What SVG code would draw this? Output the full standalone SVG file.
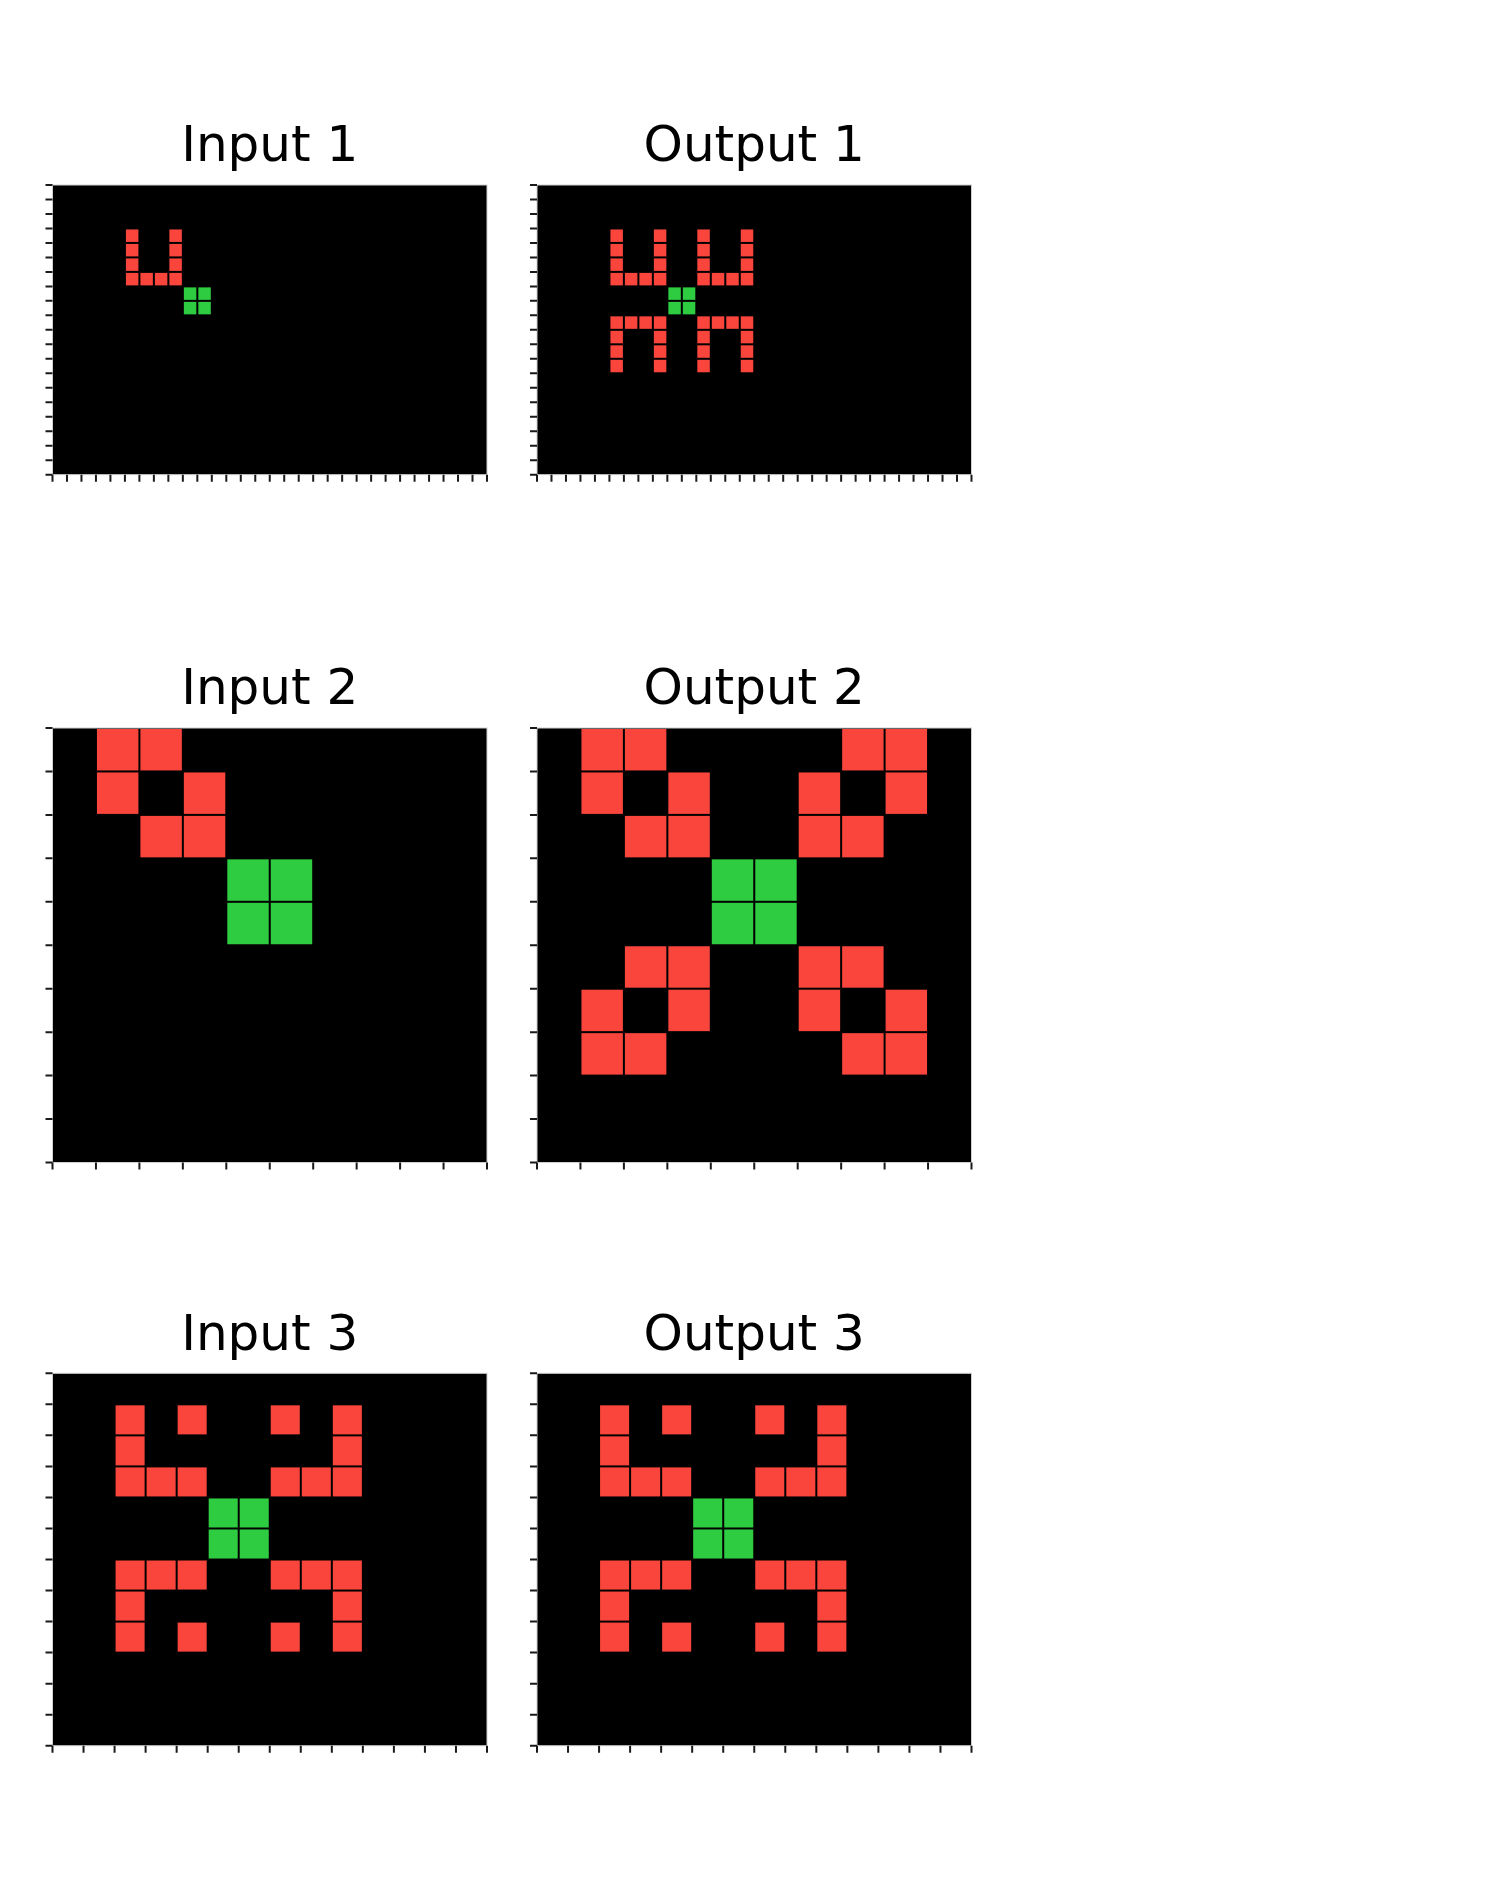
<svg xmlns="http://www.w3.org/2000/svg" width="1500" height="1890" viewBox="0 0 1500 1890">
<style>
.title{font-family:"DejaVu Sans","Liberation Sans",sans-serif;font-size:50px;fill:#000;text-anchor:middle}
.ax{fill:#000;stroke:#cfcfcf;stroke-width:1}
.r{fill:#F9453C}
.g{fill:#2ECC40}
.tk{fill:none;stroke:#1a1a1a;stroke-width:7;stroke-linecap:butt}
</style>
<defs>
<rect id="u1" x="0.069" y="0.069" width="0.862" height="0.862"/>
<rect id="u2" x="0.023" y="0.023" width="0.954" height="0.954"/>
<rect id="u3" x="0.032" y="0.032" width="0.936" height="0.936"/>
</defs>
<rect x="0" y="0" width="1500" height="1890" fill="#fff"/>

<g id="input1">
<text class="title" x="269.75" y="161">Input 1</text>
<rect class="ax" x="52.5" y="185" width="434.5" height="289.67"/>
<g transform="translate(52.5 185) scale(14.483)">
<g class="r">
<use href="#u1" x="5" y="3"/><use href="#u1" x="5" y="4"/><use href="#u1" x="5" y="5"/><use href="#u1" x="5" y="6"/>
<use href="#u1" x="8" y="3"/><use href="#u1" x="8" y="4"/><use href="#u1" x="8" y="5"/><use href="#u1" x="8" y="6"/>
<use href="#u1" x="6" y="6"/><use href="#u1" x="7" y="6"/>
</g>
<g class="g">
<use href="#u1" x="9" y="7"/><use href="#u1" x="10" y="7"/><use href="#u1" x="9" y="8"/><use href="#u1" x="10" y="8"/>
</g>
</g>
<path class="tk" stroke-dasharray="2 12.483" d="M51.5 478.17H488"/>
<path class="tk" stroke-dasharray="2 12.483" d="M49 184V475.7"/>
</g>

<g id="output1">
<text class="title" x="754.25" y="161">Output 1</text>
<rect class="ax" x="537" y="185" width="434.5" height="289.67"/>
<g transform="translate(537 185) scale(14.483)">
<g class="r">
<use href="#u1" x="5" y="3"/><use href="#u1" x="5" y="4"/><use href="#u1" x="5" y="5"/><use href="#u1" x="5" y="6"/>
<use href="#u1" x="8" y="3"/><use href="#u1" x="8" y="4"/><use href="#u1" x="8" y="5"/><use href="#u1" x="8" y="6"/>
<use href="#u1" x="6" y="6"/><use href="#u1" x="7" y="6"/>
<use href="#u1" x="11" y="3"/><use href="#u1" x="11" y="4"/><use href="#u1" x="11" y="5"/><use href="#u1" x="11" y="6"/>
<use href="#u1" x="14" y="3"/><use href="#u1" x="14" y="4"/><use href="#u1" x="14" y="5"/><use href="#u1" x="14" y="6"/>
<use href="#u1" x="12" y="6"/><use href="#u1" x="13" y="6"/>
<use href="#u1" x="5" y="9"/><use href="#u1" x="6" y="9"/><use href="#u1" x="7" y="9"/><use href="#u1" x="8" y="9"/>
<use href="#u1" x="5" y="10"/><use href="#u1" x="5" y="11"/><use href="#u1" x="5" y="12"/>
<use href="#u1" x="8" y="10"/><use href="#u1" x="8" y="11"/><use href="#u1" x="8" y="12"/>
<use href="#u1" x="11" y="9"/><use href="#u1" x="12" y="9"/><use href="#u1" x="13" y="9"/><use href="#u1" x="14" y="9"/>
<use href="#u1" x="11" y="10"/><use href="#u1" x="11" y="11"/><use href="#u1" x="11" y="12"/>
<use href="#u1" x="14" y="10"/><use href="#u1" x="14" y="11"/><use href="#u1" x="14" y="12"/>
</g>
<g class="g">
<use href="#u1" x="9" y="7"/><use href="#u1" x="10" y="7"/><use href="#u1" x="9" y="8"/><use href="#u1" x="10" y="8"/>
</g>
</g>
<path class="tk" stroke-dasharray="2 12.483" d="M536 478.17H972.5"/>
<path class="tk" stroke-dasharray="2 12.483" d="M533.5 184V475.7"/>
</g>

<g id="input2">
<text class="title" x="269.75" y="704">Input 2</text>
<rect class="ax" x="52.5" y="728" width="434.5" height="434.5"/>
<g transform="translate(52.5 728) scale(43.45)">
<g class="r">
<use href="#u2" x="1" y="0"/><use href="#u2" x="2" y="0"/>
<use href="#u2" x="1" y="1"/><use href="#u2" x="3" y="1"/>
<use href="#u2" x="2" y="2"/><use href="#u2" x="3" y="2"/>
</g>
<g class="g">
<use href="#u2" x="4" y="3"/><use href="#u2" x="5" y="3"/><use href="#u2" x="4" y="4"/><use href="#u2" x="5" y="4"/>
</g>
</g>
<path class="tk" stroke-dasharray="2 41.45" d="M51.5 1166H488"/>
<path class="tk" stroke-dasharray="2 41.45" d="M49 727V1163.5"/>
</g>

<g id="output2">
<text class="title" x="754.25" y="704">Output 2</text>
<rect class="ax" x="537" y="728" width="434.5" height="434.5"/>
<g transform="translate(537 728) scale(43.45)">
<g class="r">
<use href="#u2" x="1" y="0"/><use href="#u2" x="2" y="0"/><use href="#u2" x="7" y="0"/><use href="#u2" x="8" y="0"/>
<use href="#u2" x="1" y="1"/><use href="#u2" x="3" y="1"/><use href="#u2" x="6" y="1"/><use href="#u2" x="8" y="1"/>
<use href="#u2" x="2" y="2"/><use href="#u2" x="3" y="2"/><use href="#u2" x="6" y="2"/><use href="#u2" x="7" y="2"/>
<use href="#u2" x="2" y="5"/><use href="#u2" x="3" y="5"/><use href="#u2" x="6" y="5"/><use href="#u2" x="7" y="5"/>
<use href="#u2" x="1" y="6"/><use href="#u2" x="3" y="6"/><use href="#u2" x="6" y="6"/><use href="#u2" x="8" y="6"/>
<use href="#u2" x="1" y="7"/><use href="#u2" x="2" y="7"/><use href="#u2" x="7" y="7"/><use href="#u2" x="8" y="7"/>
</g>
<g class="g">
<use href="#u2" x="4" y="3"/><use href="#u2" x="5" y="3"/><use href="#u2" x="4" y="4"/><use href="#u2" x="5" y="4"/>
</g>
</g>
<path class="tk" stroke-dasharray="2 41.45" d="M536 1166H972.5"/>
<path class="tk" stroke-dasharray="2 41.45" d="M533.5 727V1163.5"/>
</g>

<g id="input3">
<text class="title" x="269.75" y="1350">Input 3</text>
<rect class="ax" x="52.5" y="1373.3" width="434.5" height="372.43"/>
<g transform="translate(52.5 1373.3) scale(31.036)">
<g class="r">
<use href="#u3" x="2" y="1"/><use href="#u3" x="4" y="1"/><use href="#u3" x="7" y="1"/><use href="#u3" x="9" y="1"/>
<use href="#u3" x="2" y="2"/><use href="#u3" x="9" y="2"/>
<use href="#u3" x="2" y="3"/><use href="#u3" x="3" y="3"/><use href="#u3" x="4" y="3"/><use href="#u3" x="7" y="3"/><use href="#u3" x="8" y="3"/><use href="#u3" x="9" y="3"/>
<use href="#u3" x="2" y="6"/><use href="#u3" x="3" y="6"/><use href="#u3" x="4" y="6"/><use href="#u3" x="7" y="6"/><use href="#u3" x="8" y="6"/><use href="#u3" x="9" y="6"/>
<use href="#u3" x="2" y="7"/><use href="#u3" x="9" y="7"/>
<use href="#u3" x="2" y="8"/><use href="#u3" x="4" y="8"/><use href="#u3" x="7" y="8"/><use href="#u3" x="9" y="8"/>
</g>
<g class="g">
<use href="#u3" x="5" y="4"/><use href="#u3" x="6" y="4"/><use href="#u3" x="5" y="5"/><use href="#u3" x="6" y="5"/>
</g>
</g>
<path class="tk" stroke-dasharray="2 29.036" d="M51.5 1749.23H488"/>
<path class="tk" stroke-dasharray="2 29.036" d="M49 1372.3V1746.8"/>
</g>

<g id="output3">
<text class="title" x="754.25" y="1350">Output 3</text>
<rect class="ax" x="537" y="1373.3" width="434.5" height="372.43"/>
<g transform="translate(537 1373.3) scale(31.036)">
<g class="r">
<use href="#u3" x="2" y="1"/><use href="#u3" x="4" y="1"/><use href="#u3" x="7" y="1"/><use href="#u3" x="9" y="1"/>
<use href="#u3" x="2" y="2"/><use href="#u3" x="9" y="2"/>
<use href="#u3" x="2" y="3"/><use href="#u3" x="3" y="3"/><use href="#u3" x="4" y="3"/><use href="#u3" x="7" y="3"/><use href="#u3" x="8" y="3"/><use href="#u3" x="9" y="3"/>
<use href="#u3" x="2" y="6"/><use href="#u3" x="3" y="6"/><use href="#u3" x="4" y="6"/><use href="#u3" x="7" y="6"/><use href="#u3" x="8" y="6"/><use href="#u3" x="9" y="6"/>
<use href="#u3" x="2" y="7"/><use href="#u3" x="9" y="7"/>
<use href="#u3" x="2" y="8"/><use href="#u3" x="4" y="8"/><use href="#u3" x="7" y="8"/><use href="#u3" x="9" y="8"/>
</g>
<g class="g">
<use href="#u3" x="5" y="4"/><use href="#u3" x="6" y="4"/><use href="#u3" x="5" y="5"/><use href="#u3" x="6" y="5"/>
</g>
</g>
<path class="tk" stroke-dasharray="2 29.036" d="M536 1749.23H972.5"/>
<path class="tk" stroke-dasharray="2 29.036" d="M533.5 1372.3V1746.8"/>
</g>
</svg>
